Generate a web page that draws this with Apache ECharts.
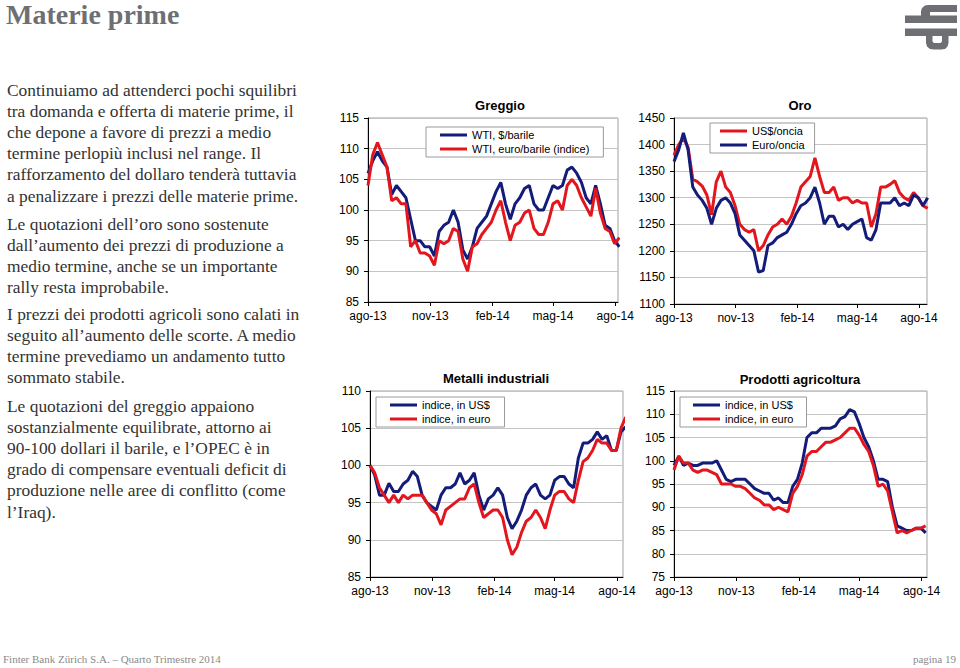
<!DOCTYPE html>
<html><head><meta charset="utf-8">
<script src="https://cdn.jsdelivr.net/npm/echarts@6/dist/echarts.min.js"></script>
<style>html,body{margin:0;padding:0;background:#fff;}#c{width:960px;height:668px;}</style>
</head><body><div id="c"></div>
<script>
// ---------- DATA ----------
const dates = ['2013-08-01','2013-08-08','2013-08-15','2013-08-22','2013-08-29','2013-09-05','2013-09-12','2013-09-19','2013-09-26',
 '2013-10-03','2013-10-10','2013-10-17','2013-10-24','2013-10-31','2013-11-07','2013-11-14','2013-11-21','2013-11-28',
 '2013-12-05','2013-12-12','2013-12-19','2013-12-26','2014-01-02','2014-01-09','2014-01-16','2014-01-23','2014-01-30',
 '2014-02-06','2014-02-13','2014-02-20','2014-02-27','2014-03-06','2014-03-13','2014-03-20','2014-03-27',
 '2014-04-03','2014-04-10','2014-04-17','2014-04-24','2014-05-01','2014-05-08','2014-05-15','2014-05-22','2014-05-29',
 '2014-06-05','2014-06-12','2014-06-19','2014-06-26','2014-07-03','2014-07-10','2014-07-17','2014-07-24','2014-07-31',
 '2014-08-07','2014-08-14'];
const tickDates = ['2013-08-01','2013-11-01','2014-02-01','2014-05-01','2014-08-01'];
const tickLabels = ['ago-13','nov-13','feb-14','mag-14','ago-14'];

const chartTitles = ['Greggio','Oro','Metalli industriali','Prodotti agricoltura'];
const greggioNames = ['WTI, $/barile','WTI, euro/barile (indice)'];
const oroNames = ['US$/oncia','Euro/oncia'];
const metalliNames = ['indice, in US$','indice, in euro'];
const agriNames = ['indice, in US$','indice, in euro'];

const wtiUsd = [106,108,109.5,108,107, 102.5,104,103,102,98.5, 95,95,94,94,92.5, 96.5,97.5,98,100,98,
 93.5,92,94,97,98, 99,101,103,104.5,101, 98.5,101,102,103.5,104, 101,100,100,102,104,
 103.5,104,106.5,107,106, 104.5,102,101,104,101, 97.5,97,95,94];
const wtiEur = [104,109,111,109,107, 101.5,102,101,101,94, 95,93,93,92.5,91, 95,94.5,95,97,96.5,
 92,90,94,94.5,96, 97,98,100,101.5,98, 95,97.5,98,99.5,100, 97,96,96,98,101,
 101.5,100,104,105,104, 102,100.5,99,103.5,99.5, 97,96.5,94.5,95.5];

const oroUsd = [1380,1400,1412,1395,1335, 1330,1322,1305,1268,1330, 1350,1320,1310,1285,1250,
 1240,1235,1240,1200,1210, 1230,1245,1250,1260,1250, 1265,1290,1320,1330,1340,
 1375,1340,1310,1310,1320, 1295,1300,1300,1290,1295, 1290,1290,1245,1270,1320,
 1320,1325,1332,1310,1300, 1295,1310,1300,1285,1280];
const oroEur = [1368,1390,1422,1390,1320, 1305,1295,1280,1250,1280, 1295,1300,1290,1270,1230,
 1220,1210,1200,1160,1163, 1210,1215,1225,1230,1235, 1250,1270,1285,1290,1300,
 1320,1290,1250,1265,1265, 1245,1250,1240,1250,1255, 1260,1225,1220,1240,1290,
 1290,1290,1300,1285,1290, 1285,1305,1300,1285,1300];

const metUsd = [100,98.7,96,96,97.6, 96.5,96.5,97.5,98,99.2, 98.5,96,95,94.5,94, 96,97,97,97.5,99,
 97.5,98,99,96,94, 95.5,96,97,96,93, 91.5,92.5,94,96,97, 97.5,96,95.5,96,98,
 98.5,98.5,97.5,97,101, 103,103,103.5,104.5,103.5, 104,102,102,104.5,105.2];
const metEur = [100,99,97,96,95, 96,95,96,95.5,96, 96,96,95,94,93.5, 92,94,94.5,95,95.5,
 95.5,97,97.5,95,93, 93.5,94,94,93,90, 88,89,91,92.5,93, 94,93,91.5,94,96,
 96.5,96.5,95.5,95,98, 100.5,101,102,103.5,103, 103,102,102,105,106.5];

const agrUsd = [99,101,99,99.5,99, 99,99.5,99.5,99.5,100, 98,96,95.5,96,96, 96,95,94,93.5,93,
 93,91.5,92,91,91, 94.5,96,99.5,105,106, 106,107,107,107,107.5, 109,109.5,111,110.5,108,
 105,103,100,96,96, 95.5,90,86,85.5,85, 85,85.5,85.5,84.5];
const agrEur = [98,101,99.5,99.5,98, 97.5,98,98,97.5,97, 95,95,95,94.5,94.5, 94,93,92,91.5,90.5,
 90.5,89.5,90,89.5,89, 93,94.5,97,101,102, 102,103,104,104,104.5, 105,106,107,107,105.5,
 103.5,102,99,94.5,95, 93.5,89,84.5,85,84.5, 85,85.5,85.5,86];

const pageTitle = 'Materie prime';
const paragraphs = [
 ['Continuiamo ad attenderci pochi squilibri','tra domanda e offerta di materie prime, il','che depone a favore di prezzi a medio','termine perlopiù inclusi nel range. Il','rafforzamento del dollaro tenderà tuttavia','a penalizzare i prezzi delle materie prime.'],
 ['Le quotazioni dell’oro sono sostenute','dall’aumento dei prezzi di produzione a','medio termine, anche se un importante','rally resta improbabile.'],
 ['I prezzi dei prodotti agricoli sono calati in','seguito all’aumento delle scorte. A medio','termine prevediamo un andamento tutto','sommato stabile.'],
 ['Le quotazioni del greggio appaiono','sostanzialmente equilibrate, attorno ai','90-100 dollari il barile, e l’OPEC è in','grado di compensare eventuali deficit di','produzione nelle aree di conflitto (come','l’Iraq).']
];
const footerLeft = 'Finter Bank Zürich S.A. – Quarto Trimestre 2014';
const footerRight = 'pagina 19';

// ---------- LAYOUT / STYLE ----------
const BLUE = '#131c78', RED = '#e3161e';
const SANS = 'Liberation Sans, Arial, sans-serif';
const SERIF = 'Liberation Serif, Times New Roman, serif';
function ts(s){const p=s.split('-');return Date.UTC(+p[0],+p[1]-1,+p[2]);}
const T0 = ts(dates[0]);
function day(s){return Math.round((ts(s)-T0)/86400000);}
const tickDays = tickDates.map(day);
function tickLabel(v){let best=0,bd=Infinity;tickDays.forEach((t,i)=>{const d=Math.abs(t-v);if(d<bd){bd=d;best=i;}});return tickLabels[best];}
function pairs(vals){return vals.map((v,i)=>[day(dates[i]),v]);}

const panels = [
 {grid:{left:368,top:118,width:250,height:184}, xmax:'2014-08-05', y:[85,115,5], title:[500,99],
  legend:{left:426,top:127,padding:[2,14,2,14]}, series:[[greggioNames[0],wtiUsd,BLUE],[greggioNames[1],wtiEur,RED]]},
 {grid:{left:674,top:118,width:253,height:186}, xmax:'2014-08-13', y:[1100,1450,50], title:[800,99],
  legend:{left:710,top:123,padding:[2,10,2,10]}, series:[[oroNames[0],oroUsd,RED],[oroNames[1],oroEur,BLUE]]},
 {grid:{left:370,top:391,width:253,height:186}, xmax:'2014-08-10', y:[85,110,5], title:[496,372],
  legend:{left:376,top:397,padding:[2,14,2,14]}, series:[[metalliNames[0],metUsd,BLUE],[metalliNames[1],metEur,RED]]},
 {grid:{left:674,top:391,width:253,height:186}, xmax:'2014-08-09', y:[75,115,5], title:[800,373],
  legend:{left:680,top:397,padding:[2,13,2,13]}, series:[[agriNames[0],agrUsd,BLUE],[agriNames[1],agrEur,RED]]}
];

const option = {
 animation:false, backgroundColor:'#fff',
 title:[], grid:[], xAxis:[], yAxis:[], legend:[], series:[], graphic:[]
};
panels.forEach((p,k)=>{
 option.title.push({text:chartTitles[k], left:p.title[0], top:p.title[1], textAlign:'center', padding:0,
  textStyle:{fontFamily:SANS,fontSize:13,fontWeight:'bold',color:'#000'}});
 option.grid.push(Object.assign({show:true,borderColor:'#a0a0a0',borderWidth:1,containLabel:false},p.grid));
 option.xAxis.push({type:'value',gridIndex:k,min:0,max:day(p.xmax),
  axisLine:{show:true,onZero:false,lineStyle:{color:'#000',width:1}},
  axisTick:{show:true,customValues:tickDays,length:4,lineStyle:{color:'#000'}},
  axisLabel:{customValues:tickDays,formatter:v=>tickLabel(v),fontFamily:SANS,fontSize:12,color:'#000',margin:8},
  splitLine:{show:false}});
 option.yAxis.push({type:'value',gridIndex:k,min:p.y[0],max:p.y[1],interval:p.y[2],
  axisLine:{show:true,lineStyle:{color:'#000',width:1}},
  axisTick:{show:true,length:4,lineStyle:{color:'#000'}},
  axisLabel:{formatter:v=>String(v),fontFamily:SANS,fontSize:12,color:'#000',margin:9},
  splitLine:{show:true,lineStyle:{color:'#c4c4c4',width:1}}});
 const names=[];
 p.series.forEach(s=>{
  names.push(s[0]);
  option.series.push({type:'line',name:s[0],xAxisIndex:k,yAxisIndex:k,data:pairs(s[1]),
   showSymbol:false,symbol:'none',clip:true,lineStyle:{width:3,color:s[2]},itemStyle:{color:s[2]}});
 });
 option.legend.push({data:names,orient:'vertical',left:p.legend.left,top:p.legend.top,padding:p.legend.padding,
  itemGap:2,itemWidth:27,itemHeight:3,icon:'rect',selectedMode:false,
  borderColor:'#9a9a9a',borderWidth:1,backgroundColor:'#fff',
  textStyle:{fontFamily:SANS,fontSize:11,color:'#000',lineHeight:12}});
});

// text graphics
option.graphic.push({type:'text',x:6,y:0,style:{text:pageTitle,font:'bold 28px '+SERIF,fill:'#6e6f73',verticalAlign:'top'}});
const paraTops=[79,213,303,395];
paragraphs.forEach((lines,i)=>{
 option.graphic.push({type:'text',x:7,y:paraTops[i],style:{text:lines.join('\n'),fontFamily:SERIF,fontSize:17.4,
  lineHeight:21.2,fill:'#333',verticalAlign:'top'}});
});
option.graphic.push({type:'text',x:3,y:653,style:{text:footerLeft,fontFamily:SERIF,fontSize:11,fill:'#8a8a8a',verticalAlign:'top'}});
option.graphic.push({type:'text',x:956,y:653,style:{text:footerRight,fontFamily:SERIF,fontSize:11,fill:'#8a8a8a',align:'right',verticalAlign:'top'}});
// logo
const LOGO='#6d6f72';
option.graphic.push({type:'polygon',shape:{points:[[921,16],[921,11],[922,8],[925,5.5],[928,5],[957,5],[957,12],[930,12],[930,16]]},style:{fill:LOGO}});
option.graphic.push({type:'rect',shape:{x:905,y:15.5,width:52,height:7.5},style:{fill:LOGO}});
option.graphic.push({type:'rect',shape:{x:905,y:28.5,width:52,height:7.5},style:{fill:LOGO}});
option.graphic.push({type:'polygon',shape:{points:[[926,36],[926,43],[927,46.5],[930,49],[934,49.5],[941,49.5],[945,49],[947.5,46.5],[948.5,43],[948.5,36],[942,36],[942,41.5],[940.5,43],[934,43],[932.5,41.5],[932.5,36]]},style:{fill:LOGO}});

const chart = echarts.init(document.getElementById('c'),null,{renderer:'svg',width:960,height:668});
chart.setOption(option);
</script></body></html>
